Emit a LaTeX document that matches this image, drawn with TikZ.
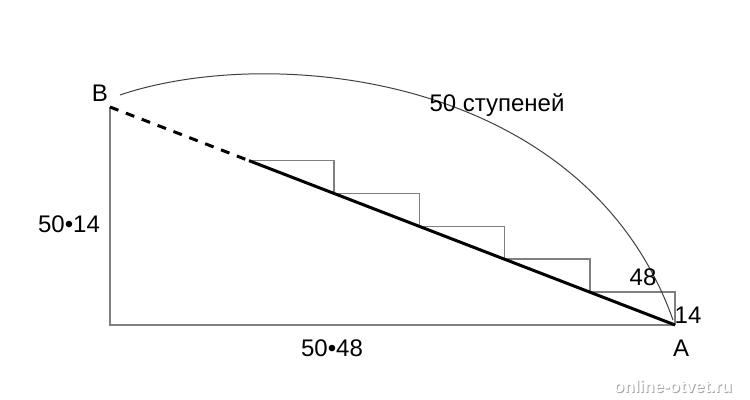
\documentclass[tikz,border=0pt]{standalone}
\usepackage{fontspec}
\setmainfont{Liberation Sans}
\begin{document}
\begin{tikzpicture}[x=25pt,y=25pt,font=\fontsize{12}{14}\selectfont]
    \useasboundingbox (0,0) rectangle (15,8);
    \coordinate (B) at (2.2,5.86);
    \coordinate (C) at (2.2,1.5);
    \coordinate (A) at (13.5,1.5);
    \coordinate (S) at (4.98,4.787);
    \coordinate (arcB) at (2.4,6.1);
    \coordinate (arcA) at (13.46,1.6);

    \draw[gray,line width=0.8pt] (B) -- (C) -- (A);
    \draw[gray,line width=0.8pt] (S) foreach \i in {1,...,5} {-- ++(1.704,0) -- ++(0,-0.6574)};
    \draw[line width=1.5pt,dash pattern=on 4.5pt off 4pt] (B) -- (S);
    \draw[line width=1.5pt] (S) -- (A);
    \draw[black!75,line width=0.5pt] (arcB) .. controls (5.4,7.12) and (11.7,6.55) .. (arcA);

    \node (lB) at (2.0,6.14) {B};
    \node (lA) at (13.62,1.04) {A};
    \node (lsteps) at (9.94,5.9) {50 ступеней};
    \node (lheight) at (1.38,3.52) {50•14};
    \node (lwidth) at (6.64,1.04) {50•48};
    \node (lstepw) at (12.86,2.46) {48};
    \node (lsteph) at (13.76,1.7) {14};
    \node[gray!70,font=\fontsize{8.5}{10}\bfseries] (wshadow) at (13.48,0.26) {online-otvet.ru};
    \node[white,font=\fontsize{8.5}{10}\bfseries] (wmark) at (13.46,0.28) {online-otvet.ru};
\end{tikzpicture}
\end{document}
